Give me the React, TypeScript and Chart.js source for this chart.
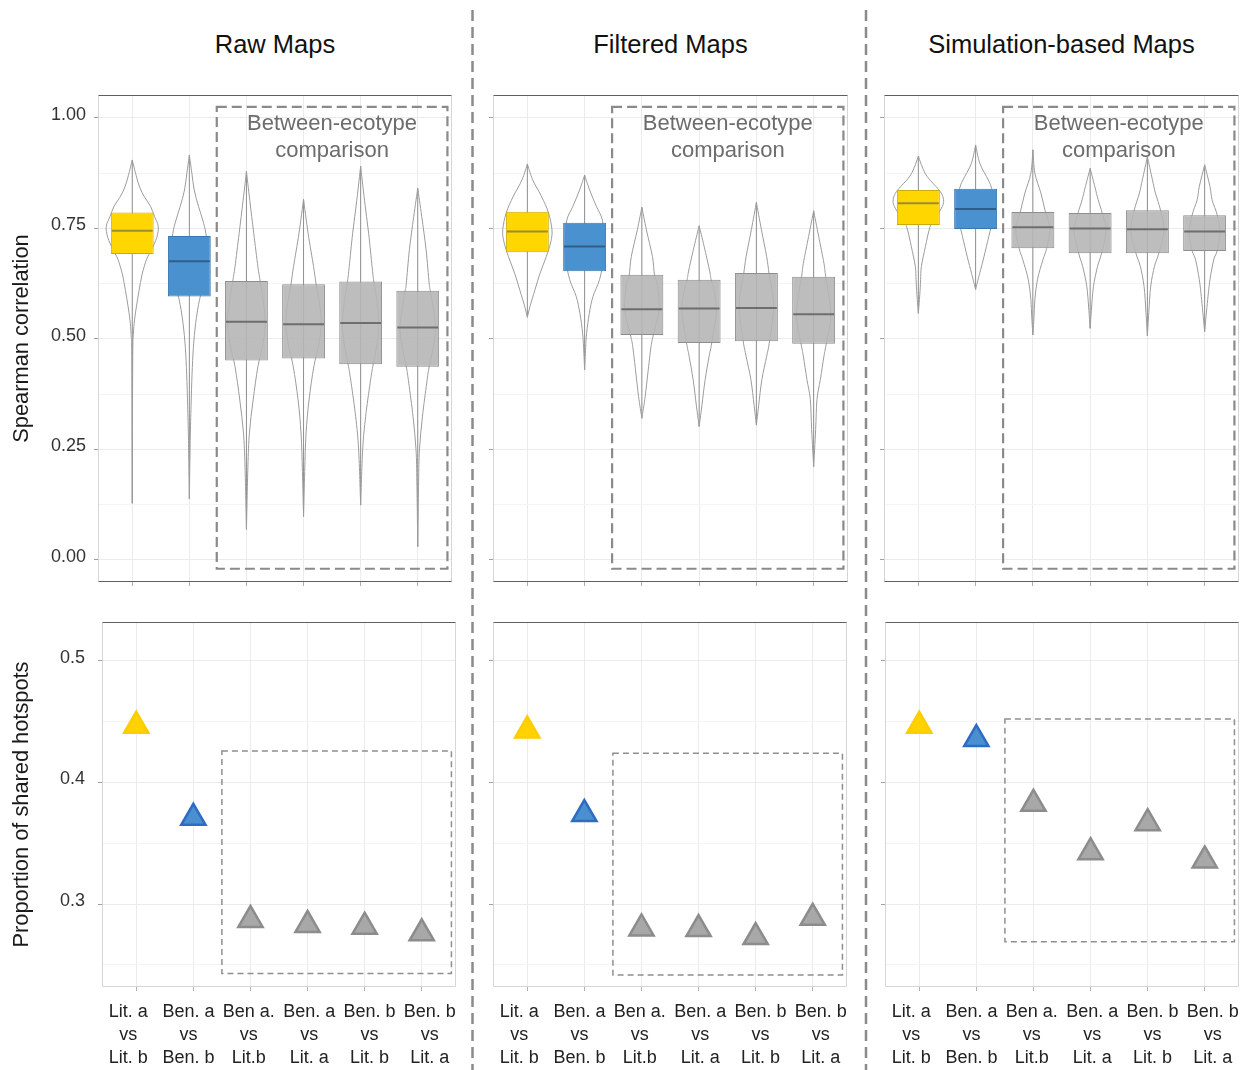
import React, { useEffect, useRef } from 'react';
import { Chart, registerables } from 'chart.js';

Chart.register(...registerables);

const FONT = '"Liberation Sans", Arial, Helvetica, sans-serif';
Chart.defaults.font.family = FONT;

// ---- categories and labels ----
const PAIRS: string[][] = [
  ['Lit. a', 'vs', 'Lit. b'],
  ['Ben. a', 'vs', 'Ben. b'],
  ['Ben a.', 'vs', 'Lit.b'],
  ['Ben. a', 'vs', 'Lit. a'],
  ['Ben. b', 'vs', 'Lit. b'],
  ['Ben. b', 'vs', 'Lit. a'],
];
const CATEGORY_POS = [1, 2, 3, 4, 5, 6];
const MAP_TITLES = ['Raw Maps', 'Filtered Maps', 'Simulation-based Maps'];
const REGION_LABEL = ['Between-ecotype', 'comparison'];

// ---- axis ticks and ranges ----
const CORR_TICKS = [0, 0.25, 0.5, 0.75, 1];
const CORR_MINOR = [0.125, 0.375, 0.625, 0.875];
const SHARED_TICKS = [0.3, 0.4, 0.5];
const SHARED_MINOR = [0.25, 0.35, 0.45];
const CORR_RANGE = [-0.05, 1.052];
const SHARED_RANGE = [0.2318, 0.532];
const CATEGORY_RANGE = [0.4, 6.6];
const PAIR_LABEL_RANGE = [0.565, 6.435];

// ---- Spearman correlation: box summaries ----
const RAW_Q1 = [0.692, 0.596, 0.451, 0.456, 0.443, 0.437];
const RAW_MEDIAN = [0.745, 0.676, 0.539, 0.533, 0.536, 0.526];
const RAW_Q3 = [0.786, 0.733, 0.631, 0.624, 0.63, 0.609];

const FILTERED_Q1 = [0.696, 0.653, 0.509, 0.491, 0.495, 0.489];
const FILTERED_MEDIAN = [0.743, 0.709, 0.567, 0.569, 0.57, 0.556];
const FILTERED_Q3 = [0.788, 0.763, 0.645, 0.634, 0.649, 0.641];

const SIM_Q1 = [0.758, 0.749, 0.705, 0.694, 0.694, 0.699];
const SIM_MEDIAN = [0.807, 0.794, 0.753, 0.75, 0.748, 0.743];
const SIM_Q3 = [0.837, 0.84, 0.787, 0.785, 0.791, 0.78];

// ---- violin profiles: [correlation, half width in category units] ----
const RAW_VIOLINS: number[][][] = [
  [[0.128, 0], [0.45, 0.008], [0.51, 0.02], [0.543, 0.04], [0.575, 0.075], [0.61, 0.12], [0.645, 0.17], [0.68, 0.25], [0.7, 0.33], [0.73, 0.43], [0.755, 0.455], [0.777, 0.39], [0.8, 0.32], [0.82, 0.22], [0.837, 0.15], [0.855, 0.1], [0.875, 0.058], [0.905, 0]],
  [[0.138, 0], [0.27, 0.015], [0.35, 0.03], [0.42, 0.047], [0.48, 0.07], [0.535, 0.11], [0.59, 0.18], [0.63, 0.27], [0.68, 0.33], [0.73, 0.3], [0.762, 0.25], [0.8, 0.16], [0.837, 0.085], [0.875, 0.044], [0.916, 0]],
  [[0.069, 0], [0.21, 0.025], [0.287, 0.052], [0.362, 0.117], [0.437, 0.2], [0.49, 0.29], [0.54, 0.33], [0.59, 0.29], [0.631, 0.24], [0.664, 0.2], [0.739, 0.128], [0.814, 0.058], [0.879, 0]],
  [[0.098, 0], [0.2, 0.02], [0.287, 0.044], [0.362, 0.096], [0.437, 0.18], [0.49, 0.27], [0.535, 0.31], [0.58, 0.28], [0.624, 0.22], [0.664, 0.175], [0.739, 0.08], [0.816, 0]],
  [[0.124, 0], [0.249, 0.035], [0.324, 0.087], [0.4, 0.166], [0.443, 0.22], [0.49, 0.29], [0.535, 0.32], [0.58, 0.29], [0.63, 0.23], [0.664, 0.2], [0.739, 0.14], [0.814, 0.067], [0.891, 0]],
  [[0.03, 0], [0.174, 0.015], [0.249, 0.03], [0.324, 0.082], [0.4, 0.157], [0.437, 0.2], [0.48, 0.27], [0.525, 0.31], [0.57, 0.27], [0.609, 0.22], [0.626, 0.2], [0.702, 0.146], [0.777, 0.07], [0.841, 0]],
];
const FILTERED_VIOLINS: number[][][] = [
  [[0.549, 0], [0.573, 0.045], [0.61, 0.13], [0.648, 0.22], [0.686, 0.33], [0.72, 0.41], [0.747, 0.43], [0.785, 0.37], [0.823, 0.245], [0.86, 0.093], [0.896, 0]],
  [[0.43, 0], [0.48, 0.018], [0.513, 0.035], [0.558, 0.082], [0.596, 0.146], [0.634, 0.26], [0.68, 0.33], [0.72, 0.34], [0.769, 0.31], [0.8, 0.205], [0.837, 0.088], [0.871, 0]],
  [[0.3205, 0], [0.37, 0.058], [0.423, 0.105], [0.483, 0.16], [0.509, 0.2], [0.567, 0.3], [0.62, 0.27], [0.645, 0.22], [0.686, 0.185], [0.747, 0.079], [0.798, 0]],
  [[0.3017, 0], [0.348, 0.047], [0.408, 0.105], [0.461, 0.175], [0.491, 0.22], [0.56, 0.3], [0.61, 0.26], [0.634, 0.21], [0.656, 0.18], [0.709, 0.088], [0.756, 0]],
  [[0.305, 0], [0.35, 0.04], [0.408, 0.096], [0.461, 0.18], [0.495, 0.23], [0.57, 0.3], [0.62, 0.26], [0.649, 0.22], [0.686, 0.18], [0.747, 0.088], [0.809, 0]],
  [[0.211, 0], [0.295, 0.035], [0.363, 0.058], [0.408, 0.117], [0.461, 0.18], [0.489, 0.22], [0.55, 0.3], [0.61, 0.25], [0.641, 0.21], [0.671, 0.18], [0.732, 0.088], [0.79, 0]],
];
const SIM_VIOLINS: number[][][] = [
  [[0.558, 0], [0.6, 0.025], [0.634, 0.04], [0.664, 0.053], [0.709, 0.123], [0.754, 0.205], [0.775, 0.3], [0.8, 0.42], [0.815, 0.44], [0.83, 0.4], [0.845, 0.307], [0.86, 0.2], [0.875, 0.117], [0.895, 0.05], [0.914, 0]],
  [[0.612, 0], [0.648, 0.07], [0.686, 0.146], [0.732, 0.23], [0.77, 0.3], [0.8, 0.33], [0.84, 0.28], [0.86, 0.22], [0.897, 0.075], [0.939, 0]],
  [[0.509, 0], [0.55, 0.02], [0.589, 0.035], [0.634, 0.079], [0.679, 0.175], [0.705, 0.24], [0.75, 0.3], [0.787, 0.22], [0.83, 0.14], [0.875, 0.035], [0.928, 0]],
  [[0.524, 0], [0.57, 0.025], [0.619, 0.058], [0.664, 0.13], [0.694, 0.2], [0.745, 0.28], [0.785, 0.21], [0.815, 0.14], [0.845, 0.082], [0.886, 0]],
  [[0.507, 0], [0.56, 0.025], [0.619, 0.058], [0.664, 0.123], [0.694, 0.2], [0.745, 0.29], [0.791, 0.23], [0.83, 0.14], [0.86, 0.088], [0.912, 0]],
  [[0.5165, 0], [0.589, 0.053], [0.634, 0.093], [0.679, 0.158], [0.7, 0.22], [0.74, 0.27], [0.78, 0.22], [0.815, 0.13], [0.845, 0.093], [0.894, 0]],
];

// ---- proportion of shared hotspots ----
const RAW_SHARED = [0.4466, 0.371, 0.287, 0.2828, 0.2814, 0.276];
const FILTERED_SHARED = [0.4427, 0.374, 0.28, 0.2795, 0.2729, 0.2887];
const SIM_SHARED = [0.4466, 0.4357, 0.3825, 0.3427, 0.3665, 0.3359];

// ---- "between-ecotype" regions (data coordinates) ----
const BETWEEN_X = [2.48, 6.52];
const CORR_REGION_Y = [-0.02, 1.025];
const SHARED_REGION_Y = [
  [0.243, 0.426],
  [0.2417, 0.424],
  [0.269, 0.4523],
];

// ---- colours ----
const BOX_FILL = ['#FFD600', '#4A92CF', 'rgba(182,182,182,0.9)', 'rgba(182,182,182,0.9)', 'rgba(182,182,182,0.9)', 'rgba(182,182,182,0.9)'];
const BOX_EDGE = ['#C9AB12', '#3B77AE', '#8E8E8E', '#8E8E8E', '#8E8E8E', '#8E8E8E'];
const MEDIAN_COLOR = ['#9C8C30', '#2F5E8A', '#6E6E6E', '#6E6E6E', '#6E6E6E', '#6E6E6E'];
const TRI_FILL = ['#FFD200', '#4A90D0', '#A8A8A8', '#A8A8A8', '#A8A8A8', '#A8A8A8'];
const TRI_EDGE = ['#FFCC00', '#2E6CC4', '#8C8C8C', '#8C8C8C', '#8C8C8C', '#8C8C8C'];

const CORR_PANELS = [
  { q1: RAW_Q1, median: RAW_MEDIAN, q3: RAW_Q3, violins: RAW_VIOLINS },
  { q1: FILTERED_Q1, median: FILTERED_MEDIAN, q3: FILTERED_Q3, violins: FILTERED_VIOLINS },
  { q1: SIM_Q1, median: SIM_MEDIAN, q3: SIM_Q3, violins: SIM_VIOLINS },
];
const SHARED_PANELS = [RAW_SHARED, FILTERED_SHARED, SIM_SHARED];

// ---- layout ----
const TOP_BOXES = [
  { left: 98, top: 95, width: 354, height: 487, axis: 98 },
  { left: 493, top: 95, width: 355, height: 487, axis: 6 },
  { left: 884, top: 95, width: 355, height: 487, axis: 6 },
];
const BOTTOM_BOXES = [
  { left: 102, top: 622, width: 354, height: 365, axis: 102 },
  { left: 493, top: 622, width: 354, height: 365, axis: 6 },
  { left: 885, top: 622, width: 354, height: 365, axis: 6 },
];
const PAD = 2;
const TOP_XAXIS_H = 6;
const BOTTOM_XAXIS_H = 5;
const LABEL_AXIS_H = 78;

const isIn = (v: number, list: number[]) => list.some((t) => Math.abs(t - v) < 1e-9);

function spline(ctx: CanvasRenderingContext2D, pts: { x: number; y: number }[]) {
  const n = pts.length;
  for (let i = 0; i < n - 1; i++) {
    const p0 = pts[Math.max(i - 1, 0)];
    const p1 = pts[i];
    const p2 = pts[i + 1];
    const p3 = pts[Math.min(i + 2, n - 1)];
    ctx.bezierCurveTo(
      p1.x + (p2.x - p0.x) / 6, p1.y + (p2.y - p0.y) / 6,
      p2.x - (p3.x - p1.x) / 6, p2.y - (p3.y - p1.y) / 6,
      p2.x, p2.y,
    );
  }
}

function framePlugin(topDark: boolean, bottomDark: boolean) {
  return {
    id: 'panelFrame',
    afterDraw(chart: any) {
      const { ctx, chartArea: a } = chart;
      const L = Math.round(a.left) + 0.5;
      const R = Math.round(a.right) - 0.5;
      const T = Math.round(a.top) + 0.5;
      const B = Math.round(a.bottom) - 0.5;
      const seg = (x1: number, y1: number, x2: number, y2: number, c: string) => {
        ctx.strokeStyle = c;
        ctx.beginPath();
        ctx.moveTo(x1, y1);
        ctx.lineTo(x2, y2);
        ctx.stroke();
      };
      ctx.save();
      ctx.lineWidth = 1;
      seg(L, T, L, B, '#d6d6d6');
      seg(R, T, R, B, '#d6d6d6');
      seg(L, B, R, B, bottomDark ? '#5f5f5f' : '#d6d6d6');
      seg(L, T, R, T, topDark ? '#5f5f5f' : '#d6d6d6');
      ctx.restore();
    },
  };
}

function yAxis(range: number[], major: number[], minor: number[], digits: number, width: number, labelled: boolean, title: string, labelPad: number) {
  return {
    type: 'linear',
    min: range[0],
    max: range[1],
    afterBuildTicks: (s: any) => {
      s.ticks = [...major, ...minor].sort((a, b) => a - b).map((v) => ({ value: v }));
    },
    afterFit: (s: any) => {
      s.width = width;
      s.paddingTop = 0;
      s.paddingBottom = 0;
    },
    grid: {
      color: (c: any) => (c.tick && isIn(c.tick.value, major) ? '#ebebeb' : '#f4f4f4'),
      tickColor: (c: any) => (c.tick && isIn(c.tick.value, major) ? '#a0a0a0' : 'rgba(0,0,0,0)'),
      tickLength: 4,
      lineWidth: 1,
    },
    border: { display: false },
    ticks: {
      display: labelled,
      autoSkip: false,
      padding: labelPad,
      labelOffset: -3,
      color: '#333',
      font: { size: 18, family: FONT },
      callback: (v: number) => (isIn(v, major) ? Number(v).toFixed(digits) : ''),
    },
    title: {
      display: labelled,
      text: title,
      color: '#1a1a1a',
      font: { size: 21.8, family: FONT },
      padding: { top: 9, bottom: 0 },
    },
  };
}

function categoryAxis(height: number) {
  return {
    type: 'linear',
    position: 'bottom',
    weight: 0,
    offset: false,
    min: CATEGORY_RANGE[0],
    max: CATEGORY_RANGE[1],
    afterBuildTicks: (s: any) => {
      s.ticks = CATEGORY_POS.map((v) => ({ value: v }));
    },
    afterFit: (s: any) => {
      s.height = height;
      s.paddingLeft = 0;
      s.paddingRight = 0;
    },
    grid: { offset: false, color: '#ebebeb', tickColor: '#b0b0b0', tickLength: 4 },
    border: { display: false },
    ticks: { display: false },
  };
}

function corrConfig(idx: number) {
  const p = CORR_PANELS[idx];
  const box = TOP_BOXES[idx];
  const violinPlugin = {
    id: 'violins',
    beforeDatasetsDraw(chart: any) {
      const { ctx, chartArea: a, scales } = chart;
      const x = scales.x;
      const y = scales.y;
      const unit = x.getPixelForValue(2) - x.getPixelForValue(1);
      ctx.save();
      ctx.beginPath();
      ctx.rect(a.left, a.top, a.width, a.height);
      ctx.clip();
      p.violins.forEach((profile, i) => {
        const xc = x.getPixelForValue(CATEGORY_POS[i]);
        const lo = profile[0][0];
        const hi = profile[profile.length - 1][0];
        ctx.lineWidth = 1;
        ctx.strokeStyle = '#8f8f8f';
        ctx.beginPath();
        ctx.moveTo(xc, y.getPixelForValue(lo));
        ctx.lineTo(xc, y.getPixelForValue(hi));
        ctx.stroke();
        const right = profile.map(([v, w]) => ({ x: xc + w * unit, y: y.getPixelForValue(v) }));
        const left = profile.slice().reverse().map(([v, w]) => ({ x: xc - w * unit, y: y.getPixelForValue(v) }));
        ctx.beginPath();
        ctx.moveTo(right[0].x, right[0].y);
        spline(ctx, right);
        spline(ctx, left);
        ctx.closePath();
        ctx.strokeStyle = '#9c9c9c';
        ctx.stroke();
      });
      ctx.restore();
    },
  };
  const overlayPlugin = {
    id: 'medianAndRegion',
    afterDatasetsDraw(chart: any) {
      const { ctx, scales } = chart;
      const x = scales.x;
      const y = scales.y;
      const meta = chart.getDatasetMeta(0);
      ctx.save();
      meta.data.forEach((bar: any, i: number) => {
        const { x: bx, width } = bar.getProps(['x', 'width'], true);
        const ym = y.getPixelForValue(p.median[i]);
        ctx.strokeStyle = MEDIAN_COLOR[i];
        ctx.lineWidth = 2;
        ctx.beginPath();
        ctx.moveTo(bx - width / 2 + 1, ym);
        ctx.lineTo(bx + width / 2 - 1, ym);
        ctx.stroke();
      });
      const x1 = x.getPixelForValue(BETWEEN_X[0]);
      const x2 = x.getPixelForValue(BETWEEN_X[1]);
      const y1 = y.getPixelForValue(CORR_REGION_Y[1]);
      const y2 = y.getPixelForValue(CORR_REGION_Y[0]);
      ctx.setLineDash([10, 5]);
      ctx.lineWidth = 2.2;
      ctx.strokeStyle = '#8a8a8a';
      ctx.strokeRect(x1, y1, x2 - x1, y2 - y1);
      ctx.setLineDash([]);
      ctx.fillStyle = '#6c6c6c';
      ctx.font = `22px ${FONT}`;
      ctx.textAlign = 'center';
      ctx.textBaseline = 'middle';
      const xm = x.getPixelForValue((BETWEEN_X[0] + BETWEEN_X[1]) / 2);
      ctx.fillText(REGION_LABEL[0], xm, y.getPixelForValue(0.987));
      ctx.fillText(REGION_LABEL[1], xm, y.getPixelForValue(0.926));
      ctx.restore();
    },
  };
  return {
    type: 'bar',
    data: {
      datasets: [
        {
          data: CATEGORY_POS.map((c, i) => ({ x: c, y: [p.q1[i], p.q3[i]] })),
          backgroundColor: BOX_FILL,
          borderColor: BOX_EDGE,
          borderWidth: 1,
          borderSkipped: false,
          barPercentage: 0.75,
          categoryPercentage: 1,
        },
      ],
    },
    options: {
      responsive: false,
      animation: false,
      devicePixelRatio: 1,
      events: [],
      layout: { autoPadding: false, padding: { top: PAD, right: PAD, left: 0, bottom: 0 } },
      plugins: { legend: { display: false }, tooltip: { enabled: false } },
      scales: {
        x: categoryAxis(TOP_XAXIS_H),
        y: yAxis(CORR_RANGE, CORR_TICKS, CORR_MINOR, 2, box.axis, idx === 0, 'Spearman correlation', 8),
      },
    },
    plugins: [violinPlugin, overlayPlugin, framePlugin(true, true)],
  };
}

function sharedConfig(idx: number) {
  const values = SHARED_PANELS[idx];
  const box = BOTTOM_BOXES[idx];
  const region = SHARED_REGION_Y[idx];
  const regionPlugin = {
    id: 'region',
    beforeDatasetsDraw(chart: any) {
      const { ctx, scales } = chart;
      const x = scales.x;
      const y = scales.y;
      const x1 = x.getPixelForValue(BETWEEN_X[0] + 0.02);
      const x2 = x.getPixelForValue(BETWEEN_X[1]);
      const y1 = y.getPixelForValue(region[1]);
      const y2 = y.getPixelForValue(region[0]);
      ctx.save();
      ctx.setLineDash([6, 4]);
      ctx.lineWidth = 1.5;
      ctx.strokeStyle = '#8f8f8f';
      ctx.strokeRect(x1, y1, x2 - x1, y2 - y1);
      ctx.restore();
    },
  };
  return {
    type: 'scatter',
    data: {
      datasets: [
        {
          data: CATEGORY_POS.map((c, i) => ({ x: c, y: values[i] })),
          pointStyle: 'triangle',
          pointRadius: 14,
          pointBackgroundColor: TRI_FILL,
          pointBorderColor: TRI_EDGE,
          pointBorderWidth: 2.5,
        },
      ],
    },
    options: {
      responsive: false,
      animation: false,
      devicePixelRatio: 1,
      events: [],
      layout: { autoPadding: false, padding: { top: PAD, right: PAD, left: 0, bottom: 0 } },
      plugins: { legend: { display: false }, tooltip: { enabled: false } },
      scales: {
        x: categoryAxis(BOTTOM_XAXIS_H),
        pairs: {
          type: 'linear',
          position: 'bottom',
          weight: 1,
          min: PAIR_LABEL_RANGE[0],
          max: PAIR_LABEL_RANGE[1],
          afterBuildTicks: (s: any) => {
            s.ticks = CATEGORY_POS.map((v) => ({ value: v }));
          },
          afterFit: (s: any) => {
            s.height = LABEL_AXIS_H;
            s.paddingLeft = 0;
            s.paddingRight = 0;
          },
          grid: { display: false, drawTicks: false },
          border: { display: false },
          ticks: {
            autoSkip: false,
            maxRotation: 0,
            minRotation: 0,
            padding: 9,
            color: '#222',
            font: { size: 18, family: FONT, lineHeight: 1.27 },
            callback: (v: number) => PAIRS[Math.round(v) - 1],
          },
        },
        y: yAxis(SHARED_RANGE, SHARED_TICKS, SHARED_MINOR, 1, box.axis, idx === 0, 'Proportion of shared hotspots', 13),
      },
    },
    plugins: [regionPlugin, framePlugin(true, false)],
  };
}

function ChartCanvas({ left, top, width, height, make }: { left: number; top: number; width: number; height: number; make: () => any }) {
  const ref = useRef<HTMLCanvasElement | null>(null);
  useEffect(() => {
    if (!ref.current) return;
    const chart = new Chart(ref.current, make());
    return () => chart.destroy();
  }, []);
  return (
    <canvas
      ref={ref}
      width={width}
      height={height}
      style={{ position: 'absolute', left, top, width, height, display: 'block' }}
    />
  );
}

export default function App() {
  return (
    <div
      style={{
        position: 'absolute',
        left: 0,
        top: 0,
        width: 1245,
        height: 1070,
        background: '#fff',
        overflow: 'hidden',
        fontFamily: FONT,
      }}
    >
      {MAP_TITLES.map((t, i) => {
        const b = TOP_BOXES[i];
        const cx = b.left + b.width / 2;
        return (
          <div
            key={t}
            style={{
              position: 'absolute',
              left: cx - 200,
              width: 400,
              top: 29,
              lineHeight: '30px',
              fontSize: 25.5,
              textAlign: 'center',
              color: '#111',
            }}
          >
            {t}
          </div>
        );
      })}
      {TOP_BOXES.map((b, i) => (
        <ChartCanvas
          key={`corr-${i}`}
          left={b.left - b.axis}
          top={b.top - PAD}
          width={b.axis + b.width + PAD}
          height={PAD + b.height + TOP_XAXIS_H}
          make={() => corrConfig(i)}
        />
      ))}
      {BOTTOM_BOXES.map((b, i) => (
        <ChartCanvas
          key={`shared-${i}`}
          left={b.left - b.axis}
          top={b.top - PAD}
          width={b.axis + b.width + PAD}
          height={PAD + b.height + BOTTOM_XAXIS_H + LABEL_AXIS_H}
          make={() => sharedConfig(i)}
        />
      ))}
      <svg width={1245} height={1070} style={{ position: 'absolute', left: 0, top: 0, pointerEvents: 'none' }}>
        {[472.5, 866].map((x) => (
          <line key={x} x1={x} y1={10} x2={x} y2={1070} stroke="#8a8a8a" strokeWidth={2.5} strokeDasharray="11 6" />
        ))}
      </svg>
    </div>
  );
}
